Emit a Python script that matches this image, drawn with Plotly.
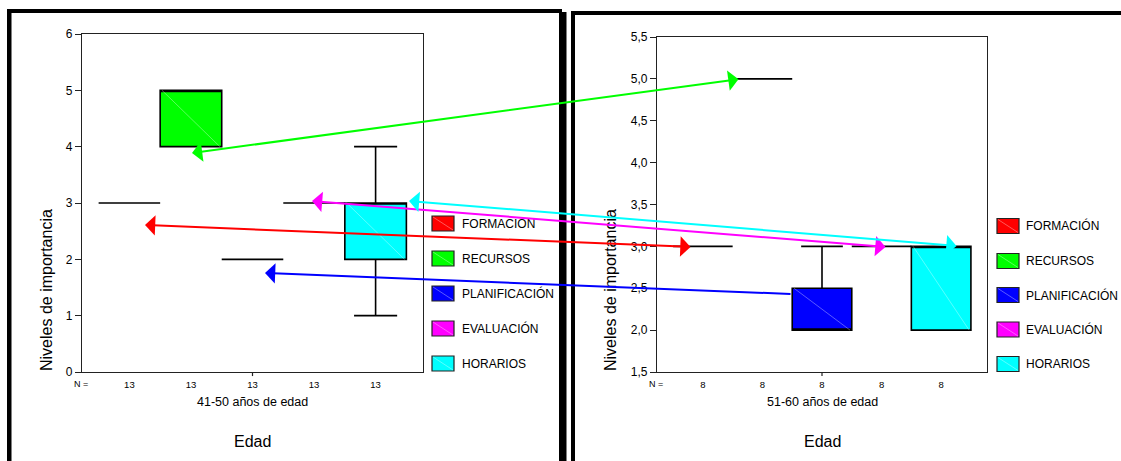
import plotly.graph_objects as go

W, H = 1121, 461
FONT = "Liberation Sans, Arial, sans-serif"

# ---------------- data ----------------
categories_left = ["FORMACION", "RECURSOS", "PLANIFICACIÓN", "EVALUACIÓN", "HORARIOS"]
categories_right = ["FORMACIÓN", "RECURSOS", "PLANIFICACIÓN", "EVALUACIÓN", "HORARIOS"]
colors = ["#ff0000", "#00ff00", "#0000ff", "#ff00ff", "#00ffff"]
positions = [0, 1, 2, 3, 4]

left_q1 = [3, 4, 2, 3, 2]
left_median = [3, 5, 2, 3, 3]
left_q3 = [3, 5, 2, 3, 3]
left_low = [3, 4, 2, 3, 1]
left_high = [3, 5, 2, 3, 4]
left_n = ["13", "13", "13", "13", "13"]

right_q1 = [3, 5, 2, 3, 2]
right_median = [3, 5, 2, 3, 3]
right_q3 = [3, 5, 2.5, 3, 3]
right_low = [3, 5, 2, 3, 2]
right_high = [3, 5, 3, 3, 3]
right_n = ["8", "8", "8", "8", "8"]

group_left = "41-50 años de edad"
group_right = "51-60 años de edad"
y_title = "Niveles de importancia"
x_title = "Edad"

# arrows linking the panels (pixel positions of their ends)
arrow_colors = ["#00ff00", "#ff0000", "#0000ff", "#ff00ff", "#00ffff"]
arrow_left_end = [(192, 153), (145, 225), (265, 273), (312, 201), (409, 201)]
arrow_right_end = [(740, 79), (692, 247), (792, 294), (887, 247), (958, 246)]
arrow_sides = ["end+start", "end+start", "end", "end+start", "end+start"]


def pxx(x):
    return x / W


def pxy(y):
    return 1 - y / H


BOX_W = 1.0

fig = go.Figure()
shapes = []


def add_panel(xa, ya, q1, med, q3, lo, hi, names):
    for i, p in enumerate(positions):
        fig.add_trace(go.Box(
            x=[p], q1=[q1[i]], median=[med[i]], q3=[q3[i]],
            lowerfence=[lo[i]], upperfence=[hi[i]],
            width=BOX_W, whiskerwidth=0.7,
            fillcolor=colors[i], line=dict(color="black", width=1.6),
            boxpoints=False, name=names[i], showlegend=False,
            xaxis=xa, yaxis=ya, hoverinfo="skip",
        ))
        # faint SPSS-like diagonal inside filled boxes
        if q3[i] > q1[i]:
            shapes.append(dict(type="line", xref=xa, yref=ya,
                               x0=p - BOX_W / 2 + 0.03, x1=p + BOX_W / 2 - 0.03,
                               y0=q3[i], y1=q1[i],
                               line=dict(color="rgba(255,255,255,0.35)", width=1)))


add_panel("x", "y", left_q1, left_median, left_q3, left_low, left_high, categories_left)
add_panel("x2", "y2", right_q1, right_median, right_q3, right_low, right_high, categories_right)

# ---------------- layout ----------------
axis_common = dict(showgrid=False, zeroline=False, showline=True, mirror=True,
                   linecolor="#222", linewidth=1.3, automargin=False)
xr = [-0.77, 4.77]
fig.update_layout(
    width=W, height=H, margin=dict(l=0, r=0, t=0, b=0, pad=0, autoexpand=False),
    paper_bgcolor="white", plot_bgcolor="white",
    font=dict(family=FONT, color="black"),
    separators=",.",
    xaxis=dict(domain=[pxx(82), pxx(423)], range=xr, tickvals=positions, ticktext=left_n,
               ticks="", tickfont=dict(size=9.5), ticklabelstandoff=3, anchor="y", **axis_common),
    yaxis=dict(domain=[pxy(372), pxy(34)], range=[0, 6], tickvals=[0, 1, 2, 3, 4, 5, 6],
               ticks="outside", ticklen=6, tickcolor="#222", tickfont=dict(size=12), anchor="x",
               **axis_common),
    xaxis2=dict(domain=[pxx(657), pxx(987)], range=xr, tickvals=positions, ticktext=right_n,
                ticks="", tickfont=dict(size=9.5), ticklabelstandoff=3, anchor="y2", **axis_common),
    yaxis2=dict(domain=[pxy(372), pxy(37)], range=[1.5, 5.5],
                tickvals=[1.5, 2, 2.5, 3, 3.5, 4, 4.5, 5, 5.5], tickformat=".1f",
                ticks="outside", ticklen=6, tickcolor="#222", tickfont=dict(size=12), anchor="x2",
                **axis_common),
)

# outer frames
for (x0, x1, y0, y1) in [(7, 562, 9, 13), (7, 11.5, 9, 470), (559, 566.5, 12, 470),
                         (571, W + 5, 11, 15), (571, 575, 11, 470)]:
    shapes.append(dict(type="rect", xref="paper", yref="paper",
                       x0=pxx(x0), x1=pxx(x1), y0=pxy(y1), y1=pxy(y0),
                       fillcolor="black", line=dict(width=0), layer="above"))
# centre tick on x axes
for xa in ["x", "x2"]:
    shapes.append(dict(type="line", xref=xa, yref=xa.replace("x", "y") + " domain",
                       x0=2, x1=2, y0=0, y1=-0.012, line=dict(color="#222", width=1.2)))

annotations = []
# legends
legend_specs = [(categories_left, 432, 460, [223.5, 258.5, 293.5, 328.5, 363.5]),
                (categories_right, 997, 1024, [226, 261, 295, 329.5, 364])]
for names, sx, tx, ys in legend_specs:
    for i, name in enumerate(names):
        yc = ys[i]
        shapes.append(dict(type="rect", xref="paper", yref="paper",
                           x0=pxx(sx), x1=pxx(sx + 22), y0=pxy(yc + 7.5), y1=pxy(yc - 7.5),
                           fillcolor=colors[i], line=dict(color="#222", width=1.2)))
        shapes.append(dict(type="line", xref="paper", yref="paper",
                           x0=pxx(sx + 1), x1=pxx(sx + 21), y0=pxy(yc - 6.5), y1=pxy(yc + 6.5),
                           line=dict(color="rgba(255,255,255,0.35)", width=1)))
        annotations.append(dict(xref="paper", yref="paper", x=pxx(tx), y=pxy(yc),
                                text=name, showarrow=False, xanchor="left", yanchor="middle",
                                font=dict(size=12)))

# panel texts
for xa, nx, cx, grp in [("x", 81, 2, group_left), ("x2", 656, 2, group_right)]:
    annotations.append(dict(xref="paper", yref="paper", x=pxx(nx), y=pxy(383.5), text="N =",
                            showarrow=False, xanchor="center", yanchor="middle",
                            font=dict(size=9)))
    annotations.append(dict(xref=xa, yref="paper", x=cx, y=pxy(402), text=grp,
                            showarrow=False, xanchor="center", yanchor="middle",
                            font=dict(size=12.5)))
    annotations.append(dict(xref=xa, yref="paper", x=cx, y=pxy(441), text=x_title,
                            showarrow=False, xanchor="center", yanchor="middle",
                            font=dict(size=16)))
for tx in [46, 610]:
    annotations.append(dict(xref="paper", yref="paper", x=pxx(tx), y=pxy(290), text=y_title,
                            textangle=-90, showarrow=False, xanchor="center", yanchor="middle",
                            font=dict(size=16)))

# linking arrows
for col, (lx, ly), (rx, ry), side in zip(arrow_colors, arrow_left_end, arrow_right_end, arrow_sides):
    annotations.append(dict(xref="paper", yref="paper", x=pxx(lx), y=pxy(ly),
                            ax=rx - lx, ay=ry - ly, axref="pixel", ayref="pixel",
                            text="", showarrow=True, arrowside=side,
                            arrowhead=1, startarrowhead=1, arrowsize=1.7, startarrowsize=1.7,
                            arrowwidth=2, arrowcolor=col, standoff=0, startstandoff=0))

fig.layout.shapes = shapes
fig.layout.annotations = annotations
fig.write_html("out.html", config={"displayModeBar": False},
               post_script="document.body.style.margin='0';document.body.style.overflow='hidden';")
